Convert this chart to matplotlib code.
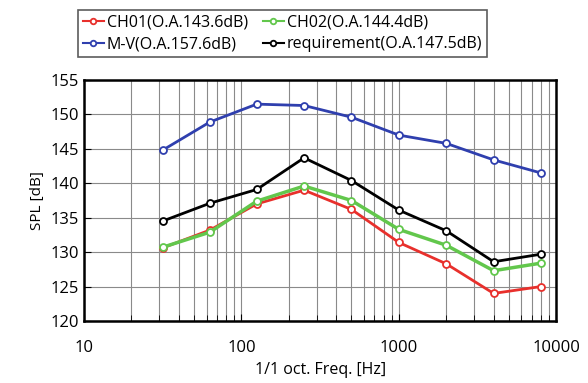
import numpy as np
import matplotlib.pyplot as plt
from matplotlib.ticker import FixedLocator, FixedFormatter, LogLocator, NullFormatter

# 1/1 octave band centre frequencies [Hz]
freq = [31.5, 63, 125, 250, 500, 1000, 2000, 4000, 8000]

# SPL [dB] per band
ch01 = [130.6, 133.2, 137.0, 139.0, 136.2, 131.4, 128.3, 124.0, 125.0]
ch02 = [130.7, 132.9, 137.4, 139.6, 137.5, 133.3, 131.0, 127.3, 128.4]
mv = [144.8, 148.9, 151.5, 151.3, 149.6, 147.0, 145.8, 143.4, 141.5]
req = [134.5, 137.1, 139.1, 143.7, 140.4, 136.1, 133.1, 128.6, 129.7]

labels = ["CH01(O.A.143.6dB)", "CH02(O.A.144.4dB)",
          "M-V(O.A.157.6dB)", "requirement(O.A.147.5dB)"]

plt.rcParams['font.family'] = ['Open Sans', 'DejaVu Sans']

fig = plt.figure(figsize=(5.88, 3.83), dpi=100)
ax = fig.add_axes([0.143, 0.162, 0.803, 0.629])

style = dict(marker='o', markersize=5, markerfacecolor='white', markeredgewidth=1.3, linewidth=2)
l1, = ax.plot(freq, ch01, color='#e8302c', label=labels[0], **style)
l2, = ax.plot(freq, ch02, color='#62c74c', label=labels[1], linewidth=2.5, marker='o', markersize=5,
              markerfacecolor='white', markeredgewidth=1.3)
l3, = ax.plot(freq, mv, color='#2f3fae', label=labels[2], **style)
l4, = ax.plot(freq, req, color='black', label=labels[3], **style)

ax.set_xscale('log')
ax.set_xlim(10, 10000)
ax.set_ylim(120, 155)
ax.set_yticks(np.arange(120, 156, 5))
ax.xaxis.set_major_locator(FixedLocator([10, 100, 1000, 10000]))
ax.xaxis.set_major_formatter(FixedFormatter(['10', '100', '1000', '10000']))
ax.xaxis.set_minor_locator(LogLocator(base=10, subs=np.arange(2, 10)))
ax.xaxis.set_minor_formatter(NullFormatter())

ax.grid(True, which='both', color='#8a8a8a', linewidth=0.8)
ax.tick_params(which='both', direction='in', labelsize=12, colors='black')
ax.tick_params(axis='x', which='major', pad=14, length=5)
ax.tick_params(axis='x', which='minor', length=4)
ax.tick_params(axis='y', length=5)
for s in ax.spines.values():
    s.set_linewidth(1.8)
    s.set_color('black')

ax.set_ylabel('SPL [dB]', fontsize=11)
ax.set_xlabel('1/1 oct. Freq. [Hz]', fontsize=11.5)

# legend is filled column by column, so order handles for row layout
leg = fig.legend([l1, l3, l2, l4], [labels[0], labels[2], labels[1], labels[3]],
                 loc='lower left', bbox_to_anchor=(0.119, 0.83, 0.723, 0.144), mode='expand',
                 ncol=2, fontsize=11.5, frameon=True, fancybox=False, handlelength=1.3,
                 handletextpad=0.2, borderpad=0.3, labelspacing=0.35, columnspacing=1.0)
leg.get_frame().set_edgecolor('#333333')
leg.get_frame().set_linewidth(1.2)
for h in leg.legend_handles:
    h.set_linewidth(1.5)
    h.set_markersize(4)

fig.savefig('out.png', dpi=100)
